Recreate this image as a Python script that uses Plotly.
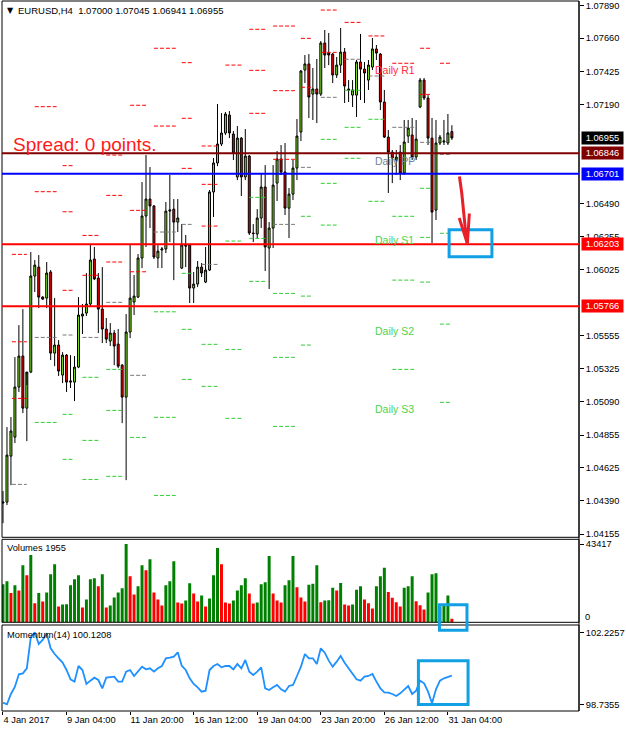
import plotly.graph_objects as go

# ---------------- EURUSD H4 bars (4 Jan 2017 12:00 .. 31 Jan 2017 08:00) ----------------
opens = [1.04374, 1.04381, 1.04706, 1.04840, 1.05194, 1.05413, 1.05045, 1.05300, 1.05979, 1.06042,
         1.05830, 1.05823, 1.06007, 1.05434, 1.05491, 1.05279, 1.05420, 1.05229, 1.05229, 1.05335,
         1.05696, 1.05717, 1.05781, 1.06099, 1.05965, 1.05745, 1.05604, 1.05519, 1.05576, 1.05498,
         1.05349, 1.05123, 1.05583, 1.05795, 1.05830, 1.06106, 1.06403, 1.06523, 1.06474, 1.06106,
         1.06163, 1.06170, 1.06438, 1.06452, 1.06360, 1.06035, 1.06198, 1.06198, 1.05894, 1.05922,
         1.06042, 1.05936, 1.06021, 1.06573, 1.06778, 1.06912, 1.06990, 1.07117, 1.06983, 1.06679,
         1.06954, 1.06679, 1.06827, 1.06283, 1.06276, 1.06389, 1.06608, 1.06177, 1.06318, 1.06636,
         1.06806, 1.06714, 1.06459, 1.06558, 1.06742, 1.06997, 1.07435, 1.07478, 1.07265, 1.07301,
         1.07265, 1.07626, 1.07555, 1.07548, 1.07400, 1.07470, 1.07562, 1.07301, 1.07258, 1.07258,
         1.07492, 1.07442, 1.07364, 1.07456, 1.07584, 1.07548, 1.07209, 1.06961, 1.06855, 1.06799,
         1.06855, 1.06707, 1.06968, 1.06976, 1.06820, 1.07174, 1.07364, 1.07237, 1.06954, 1.06445,
         1.06919, 1.06926, 1.06919, 1.07000]
highs = [1.04459, 1.04911, 1.04982, 1.05406, 1.05632, 1.05745, 1.05208, 1.06148, 1.06092, 1.06127,
         1.05837, 1.06078, 1.06021, 1.05823, 1.05526, 1.05441, 1.05427, 1.05420, 1.05413, 1.05830,
         1.05781, 1.06000, 1.06198, 1.06184, 1.06000, 1.06042, 1.05682, 1.05646, 1.05597, 1.05604,
         1.05357, 1.05710, 1.06198, 1.05986, 1.06134, 1.06643, 1.06834, 1.06749, 1.06481, 1.06198,
         1.06184, 1.06502, 1.06693, 1.06523, 1.06523, 1.06346, 1.06269, 1.06205, 1.06007, 1.06085,
         1.06071, 1.06184, 1.06587, 1.06813, 1.07195, 1.07131, 1.07138, 1.07145, 1.07004, 1.07039,
         1.06961, 1.07018, 1.06834, 1.06346, 1.06452, 1.06700, 1.06763, 1.06360, 1.06763, 1.06862,
         1.06905, 1.06919, 1.06601, 1.06799, 1.07089, 1.07435, 1.07541, 1.07548, 1.07449, 1.07513,
         1.07640, 1.07718, 1.07697, 1.07555, 1.07527, 1.07732, 1.07591, 1.07364, 1.07364, 1.07506,
         1.07690, 1.07492, 1.07506, 1.07661, 1.07612, 1.07555, 1.07294, 1.07011, 1.06870, 1.06870,
         1.06905, 1.07082, 1.07082, 1.07096, 1.07082, 1.07379, 1.07379, 1.07258, 1.07096, 1.07082,
         1.06976, 1.07082, 1.07124, 1.07045]
lows = [1.04232, 1.04360, 1.04501, 1.04798, 1.05159, 1.05010, 1.04812, 1.05293, 1.05866, 1.05752,
        1.05809, 1.05752, 1.05385, 1.05342, 1.05272, 1.05222, 1.05159, 1.05187, 1.05095, 1.05328,
        1.05569, 1.05696, 1.05760, 1.05950, 1.05576, 1.05505, 1.05505, 1.05484, 1.05349, 1.05328,
        1.04939, 1.04536, 1.05540, 1.05703, 1.05823, 1.06035, 1.06184, 1.06318, 1.06099, 1.06035,
        1.06035, 1.06141, 1.06219, 1.05950, 1.06290, 1.06028, 1.06042, 1.05788, 1.05788, 1.05901,
        1.05972, 1.05929, 1.06014, 1.06396, 1.06756, 1.06898, 1.06976, 1.06954, 1.06799, 1.06657,
        1.06544, 1.06657, 1.06269, 1.06219, 1.06247, 1.06318, 1.06014, 1.05887, 1.06177, 1.06509,
        1.06693, 1.06410, 1.06247, 1.06516, 1.06657, 1.06933, 1.07343, 1.07096, 1.07082, 1.07060,
        1.07251, 1.07449, 1.07470, 1.07343, 1.07379, 1.07414, 1.07202, 1.07209, 1.07174, 1.07103,
        1.07223, 1.07202, 1.07294, 1.07435, 1.07506, 1.07152, 1.06954, 1.06566, 1.06636, 1.06693,
        1.06657, 1.06693, 1.06919, 1.06799, 1.06799, 1.07166, 1.07223, 1.06905, 1.06212, 1.06375,
        1.06905, 1.06905, 1.06905, 1.06941]
closes = [1.04381, 1.04713, 1.04883, 1.05194, 1.05413, 1.05045, 1.05300, 1.05979, 1.06056, 1.05830,
          1.05816, 1.06000, 1.05434, 1.05491, 1.05307, 1.05420, 1.05229, 1.05236, 1.05335, 1.05703,
          1.05710, 1.05781, 1.06092, 1.05958, 1.05745, 1.05604, 1.05533, 1.05576, 1.05484, 1.05342,
          1.05123, 1.05583, 1.05823, 1.05837, 1.06106, 1.06403, 1.06523, 1.06474, 1.06113, 1.06155,
          1.06170, 1.06438, 1.06445, 1.06360, 1.06389, 1.06198, 1.06191, 1.05894, 1.05922, 1.06042,
          1.06000, 1.06021, 1.06573, 1.06778, 1.06912, 1.06990, 1.07124, 1.06990, 1.06848, 1.06954,
          1.06679, 1.06827, 1.06283, 1.06279, 1.06389, 1.06608, 1.06184, 1.06318, 1.06622, 1.06806,
          1.06714, 1.06459, 1.06558, 1.06742, 1.06968, 1.07428, 1.07478, 1.07244, 1.07301, 1.07265,
          1.07626, 1.07541, 1.07541, 1.07400, 1.07470, 1.07562, 1.07322, 1.07294, 1.07294, 1.07492,
          1.07442, 1.07414, 1.07470, 1.07584, 1.07555, 1.07209, 1.06961, 1.06855, 1.06813, 1.06820,
          1.06707, 1.06926, 1.07025, 1.06820, 1.06947, 1.07364, 1.07237, 1.06954, 1.06431, 1.06919,
          1.06961, 1.06933, 1.06990, 1.06955]

volumes = [21052, 22729, 16208, 20493, 17699, 31671, 26082, 37260, 10619, 16208,
           11551, 16581, 26641, 32230, 8756, 9874, 10060, 20493, 23846, 26082,
           8197, 12668, 23846, 24405, 19934, 26641, 8197, 9315, 13786, 16581,
           18816, 43417, 25523, 15463, 19934, 31671, 28877, 35024, 16581, 12668,
           9315, 20493, 22729, 33907, 10992, 10433, 12110, 21611, 16022, 11551,
           14904, 8756, 13227, 26082, 41172, 32230, 10992, 10433, 12110, 17699,
           20493, 24405, 16022, 10433, 10992, 21052, 22170, 36701, 16022, 12110,
           10992, 20493, 23288, 36701, 19375, 13786, 11551, 20866, 21425, 31671,
           11178, 12110, 12296, 19189, 17699, 21797, 9874, 9315, 9874, 18071,
           19934, 12668, 10619, 7638, 19934, 25523, 30181, 16767, 13600, 11178,
           8756, 19189, 19934, 25523, 11737, 9501, 7079, 16581, 26641, 27200,
           8756, 9129, 14904, 1955]

momentum = [98.814, 98.7355, 99.2345, 99.590, 100.188, 100.236, 100.479, 101.982, 102.2257, 101.659,
            101.852, 102.176, 101.448, 101.174, 100.964, 100.754, 100.398, 99.946, 99.832, 100.592,
            100.398, 99.719, 99.881, 100.026, 99.913, 99.509, 100.026, 100.043, 100.075, 99.832,
            99.832, 100.317, 100.398, 100.107, 100.317, 100.560, 100.430, 100.479, 100.317, 100.479,
            100.592, 100.964, 100.996, 101.044, 101.254, 100.608, 100.398, 99.994, 99.719, 99.558,
            99.348, 99.396, 100.398, 100.592, 100.689, 100.527, 100.592, 100.592, 100.430, 100.689,
            100.479, 100.883, 100.317, 100.156, 100.317, 100.527, 99.509, 99.428, 99.558, 99.671,
            99.461, 99.348, 99.622, 99.671, 100.107, 100.560, 101.174, 100.964, 100.964, 100.689,
            101.448, 101.238, 100.851, 100.560, 100.802, 101.077, 100.754, 100.479, 100.236, 99.946,
            99.881, 100.075, 100.107, 100.204, 99.832, 99.509, 99.315, 99.299, 99.235, 99.138,
            99.267, 99.461, 99.622, 99.235, 99.396, 99.881, 99.752, 99.348, 98.782, 99.461,
            99.881, 99.994, 100.075, 100.1208]

tick_bars = [0, 16, 32, 48, 64, 80, 96, 112]
tick_labels = ["4 Jan 2017", "9 Jan 04:00", "11 Jan 20:00", "16 Jan 12:00",
               "19 Jan 04:00", "23 Jan 20:00", "26 Jan 12:00", "31 Jan 04:00"]

price_ticks = [1.07890, 1.07660, 1.07425, 1.07190, 1.06490, 1.06255,
               1.06025, 1.05555, 1.05325, 1.05090, 1.04855, 1.04625, 1.04390, 1.04155]

# ---------------- daily pivot levels (segment span in bar units) ----------------
pivot_days = ["5 Jan", "6 Jan", "9 Jan", "10 Jan", "11 Jan", "12 Jan", "13 Jan", "16 Jan", "17 Jan",
              "18 Jan", "19 Jan", "20 Jan", "23 Jan", "24 Jan", "25 Jan", "26 Jan", "27 Jan", "30 Jan", "31 Jan"]
day_start = [2.25, 8, 15, 20, 26, 32, 38, 45, 50, 56, 62, 68, 75, 80, 86, 92, 98, 105, 110]
day_end = [6, 13.5, 17.5, 24, 30, 36, 43.5, 47.5, 54, 60, 66, 73.5, 77.5, 84, 90, 96, 103.5, 107.5, 112.5]
pivot_r3 = [1.06132, None, 1.06759, None, 1.06834, 1.07186, None, 1.07487, 1.06898, None,
            1.07723, 1.07746, None, None, None, None, None, None, None]
pivot_r2 = [1.05514, 1.07176, 1.06433, 1.06266, 1.06549, 1.06443, 1.07589, 1.07094, 1.06627, None,
            1.07433, 1.07289, 1.07659, 1.07859, None, None, None, 1.07589, None]
pivot_r1 = [1.05114, 1.06575, 1.05878, 1.05984, 1.06078, 1.06009, 1.07039, 1.06740, 1.06332, 1.07470,
            1.07129, 1.06804, 1.07313, 1.07560, 1.07772, 1.07676, 1.07483, 1.07263, 1.07483]
pivot_pp = [1.04506, 1.05545, 1.05562, 1.05545, 1.05793, 1.05277, 1.06290, 1.06344, 1.06061, None,
            None, 1.06344, 1.06747, 1.07242, 1.07511, 1.07393, 1.07030, 1.06924, 1.06839]
pivot_s1 = [None, 1.04944, 1.05001, 1.05263, 1.05319, 1.04838, 1.05726, 1.05998, 1.05496, 1.06226,
            1.06535, 1.05856, 1.06401, 1.06945, 1.07292, 1.07087, 1.06401, 1.06599, 1.06281]
pivot_s2 = [None, None, 1.04683, 1.04817, 1.05029, None, 1.04980, 1.05602, 1.05199, 1.05460,
            1.06245, 1.05404, 1.05837, 1.06634, 1.07030, None, 1.05950, 1.06252, 1.05639]
pivot_s3 = [None, None, None, 1.04541, 1.04563, None, 1.04428, 1.05248, None, 1.04973,
            1.05941, 1.04916, 1.05491, 1.06339, 1.06811, 1.06507, 1.05319, 1.05936, 1.05086]

# horizontal price levels with their right-edge price boxes
level_prices = [1.06846, 1.06701, 1.06203, 1.05766]
level_colors = ["#800000", "#0000FF", "#FF0000", "#FF0000"]
bid_price = 1.06955

FONT = "Liberation Sans, Arial, sans-serif"
BULL = "#7FE41E"
BEAR = "#F00000"
PIV_RED, PIV_GRAY, PIV_GREEN = "#FF0000", "#7A7A7A", "#32CD32"
MARK_BLUE = "#12A0E4"
ARROW_RED = "#E8202A"

# plot area in page pixels
L_PX, R_PX, T_PX, B_PX = 2, 583, 1, 711


def px(x):
    return (x - L_PX) / (R_PX - L_PX)


def py(y):
    return (B_PX - y) / (B_PX - T_PX)


n = len(closes)
bars = list(range(n))

fig = go.Figure()

# main candles
fig.add_trace(go.Candlestick(
    x=bars, open=opens, high=highs, low=lows, close=closes,
    increasing=dict(line=dict(color="black", width=1), fillcolor=BULL),
    decreasing=dict(line=dict(color="black", width=1), fillcolor=BEAR),
    whiskerwidth=0, xaxis="x", yaxis="y", hoverinfo="skip", showlegend=False))


def segments(levels):
    xs, ys = [], []
    for s, e, v in zip(day_start, day_end, levels):
        if v is None:
            continue
        xs += [s, e, None]
        ys += [v, v, None]
    return xs, ys


for group, color in [((pivot_r3, pivot_r2, pivot_r1), PIV_RED),
                     ((pivot_pp,), PIV_GRAY),
                     ((pivot_s1, pivot_s2, pivot_s3), PIV_GREEN)]:
    xs, ys = [], []
    for lv in group:
        a, b = segments(lv)
        xs += a
        ys += b
    fig.add_trace(go.Scatter(x=xs, y=ys, mode="lines", xaxis="x", yaxis="y",
                             line=dict(color=color, width=1, dash="4px,2px"),
                             hoverinfo="skip", showlegend=False))

# volumes: green when volume rises versus the previous bar
vol_colors = ["#008000" if i == 0 or volumes[i] > volumes[i - 1] else "#FF0000" for i in range(n)]
fig.add_trace(go.Bar(x=bars, y=volumes, marker=dict(color=vol_colors, line=dict(width=0)),
                     width=0.75, xaxis="x", yaxis="y2", hoverinfo="skip", showlegend=False))

# momentum
fig.add_trace(go.Scatter(x=bars, y=momentum, mode="lines", line=dict(color="#1E90FF", width=1.8),
                         xaxis="x", yaxis="y3", hoverinfo="skip", showlegend=False))

shapes = []
# panel frames
for top, bot in [(T_PX, 537.3), (539.3, 622.3), (625, B_PX)]:
    shapes.append(dict(type="rect", xref="paper", yref="paper", x0=0, x1=1, y0=py(bot), y1=py(top),
                       line=dict(color="black", width=1), fillcolor="rgba(0,0,0,0)", layer="above"))
shapes.append(dict(type="line", xref="paper", yref="paper", x0=1, x1=1, y0=0.0, y1=1.0,
                   line=dict(color="black", width=1)))

# horizontal levels
for p, c in zip(level_prices, level_colors):
    shapes.append(dict(type="line", xref="paper", yref="y", x0=0, x1=1, y0=p, y1=p,
                       line=dict(color=c, width=2)))

# highlight boxes
for (x0, y0, x1, y1) in [(452.2, 229.8, 495.3, 256.8), (442.5, 604.8, 470.2, 630.2),
                         (421.3, 660.8, 471.3, 704.5)]:
    shapes.append(dict(type="rect", xref="paper", yref="paper", x0=px(x0), x1=px(x1),
                       y0=py(y1), y1=py(y0), line=dict(color=MARK_BLUE, width=3),
                       fillcolor="rgba(0,0,0,0)"))

# hand-drawn arrow
shaft = [(462.6, 176.5), (465.0, 193.5), (468.3, 226.5), (470.6, 243.5)]
head = [(462.4, 218.0), (470.6, 243.5), (472.6, 213.5)]


def path_of(pts):
    return "M " + " L ".join(f"{px(x):.5f},{py(y):.5f}" for x, y in pts)


for pts in (shaft, head):
    shapes.append(dict(type="path", xref="paper", yref="paper", path=path_of(pts),
                       line=dict(color=ARROW_RED, width=3)))

annotations = []
# header
annotations.append(dict(xref="paper", yref="paper", x=px(5.5), y=py(10.4), xanchor="left", yanchor="middle",
                        text="▼", showarrow=False, font=dict(family="DejaVu Sans", size=8, color="black")))
annotations.append(dict(xref="paper", yref="paper", x=px(16.5), y=py(10.8), xanchor="left", yanchor="middle",
                        text="EURUSD,H4  1.07000 1.07045 1.06941 1.06955", showarrow=False,
                        font=dict(family=FONT, size=9.5, color="black")))
annotations.append(dict(xref="paper", yref="paper", x=px(11.5), y=py(144.5), xanchor="left", yanchor="middle",
                        text="Spread: 0 points.", showarrow=False,
                        font=dict(family=FONT, size=19, color="#FF1A1A")))
annotations.append(dict(xref="paper", yref="paper", x=px(5.5), y=py(548.3), xanchor="left", yanchor="middle",
                        text=f"Volumes {volumes[-1]}", showarrow=False,
                        font=dict(family=FONT, size=9.3, color="black")))
annotations.append(dict(xref="paper", yref="paper", x=px(5.5), y=py(634.8), xanchor="left", yanchor="middle",
                        text=f"Momentum(14) {momentum[-1]:.4f}", showarrow=False,
                        font=dict(family=FONT, size=9.3, color="black")))
annotations.append(dict(xref="paper", yref="paper", x=px(587.5), y=py(616.7), xanchor="left", yanchor="middle",
                        text="0", showarrow=False, font=dict(family=FONT, size=9.3, color="black")))

# daily pivot captions for the current day
label_x = 93.25
for txt, val, col in [("Daily R1", pivot_r1[-1], "#FF2A3A"), ("Daily PP", pivot_pp[-1], "#6F7F99"),
                      ("Daily S1", pivot_s1[-1], "#4CD44C"), ("Daily S2", pivot_s2[-1], "#4CD44C"),
                      ("Daily S3", pivot_s3[-1], "#4CD44C")]:
    annotations.append(dict(xref="x", yref="y", x=label_x, y=val, xanchor="left", yanchor="top",
                            yshift=1, text=txt, showarrow=False,
                            font=dict(family=FONT, size=10.5, color=col)))

# price boxes on the right scale
for p, c in [(bid_price, "#000000")] + list(zip(level_prices, level_colors)):
    annotations.append(dict(xref="paper", yref="y", x=px(585), y=p, xanchor="left", yanchor="middle",
                            text=f"{p:.5f}", showarrow=False, bgcolor=c, borderpad=1,
                            width=39, height=10, align="center",
                            font=dict(family=FONT, size=9.3, color="white")))

tickfont = dict(family=FONT, size=9.3, color="black")
fig.update_layout(
    width=626, height=732,
    margin=dict(l=L_PX, r=626 - R_PX, t=T_PX, b=732 - B_PX, pad=0),
    paper_bgcolor="white", plot_bgcolor="white",
    boxgap=0.3, bargap=0.25,
    showlegend=False,
    xaxis=dict(domain=[0, 1], range=[-0.25, 145], anchor="y3",
               tickvals=tick_bars, ticktext=tick_labels, ticks="outside", ticklen=3,
               tickcolor="black", ticklabelposition="outside right", tickfont=tickfont,
               showgrid=False, zeroline=False, showline=False,
               rangeslider=dict(visible=False)),
    yaxis=dict(domain=[py(537.3), 1], range=[1.04132, 1.07923], side="right", anchor="x",
               tickvals=price_ticks, ticktext=[f"{v:.5f}" for v in price_ticks],
               ticks="outside", ticklen=4, tickcolor="black", tickfont=tickfont,
               showgrid=False, zeroline=False, showline=False),
    yaxis2=dict(domain=[py(622.3), py(539.3)], range=[0, 46024], side="right", anchor="x",
                tickvals=[43417], ticktext=["43417"], ticks="outside", ticklen=4,
                tickcolor="black", tickfont=tickfont,
                showgrid=False, zeroline=False, showline=False),
    yaxis3=dict(domain=[0, py(625)], range=[98.41, 102.5796], side="right", anchor="x",
                tickvals=[98.7355, 102.2257], ticktext=["98.7355", "102.2257"], ticks="outside",
                ticklen=4, tickcolor="black", tickfont=tickfont,
                showgrid=False, zeroline=False, showline=False),
    shapes=shapes,
    annotations=annotations,
)

fig.write_html("out.html")
